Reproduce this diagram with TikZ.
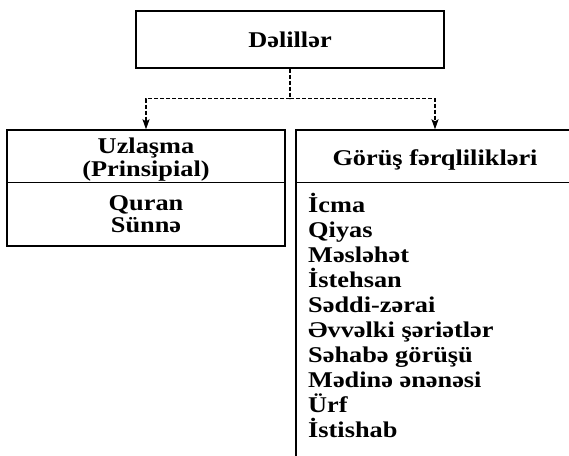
\documentclass[tikz,border=0pt]{standalone}
\usepackage{fontspec}
\newfontfamily\lbl{Liberation Serif}[FakeStretch=1.17]
\usetikzlibrary{arrows.meta,calc}
\tikzset{
  box/.style={draw=black, line width=1.4pt, inner sep=0pt},
  lbltext/.style={inner sep=0pt, font=\lbl\bfseries\fontsize{22.5}{25}\selectfont},
  link/.style={line width=1.2pt, dash pattern=on 4pt off 2pt},
  arr/.style={link, -{Stealth[length=10pt,width=7pt,inset=2pt]}}
}
\begin{document}
\begin{tikzpicture}[x=1pt,y=-1pt]
  \useasboundingbox[fill=white] (0,0) rectangle (569,455);

  % boxes
  \node[box, minimum width=308pt, minimum height=57pt] (top) at (290,39.5) {};
  \node[box, minimum width=278pt, minimum height=116pt] (cons) at (146,188) {};
  \node[box, minimum width=278pt, minimum height=340pt] (diff) at (435,300) {};

  % header dividers (y axis points down here)
  \draw[line width=1.4pt] ($(cons.north west)+(0,53)$) -- ($(cons.north east)+(0,53)$);
  \draw[line width=1.4pt] ($(diff.north west)+(0,53)$) -- ($(diff.north east)+(0,53)$);

  % connectors
  \coordinate (split) at ($(top.south)+(0,30)$);
  \draw[link] (top.south) -- (split);
  \draw[arr] (split) -| (cons.north);
  \draw[arr] (split) -| (diff.north);

  % titles
  \node[lbltext, anchor=base] (ttop) at (290,47) {Dəlillər};
  \node[lbltext, anchor=base] (tc1) at (146,153.5) {Uzlaşma};
  \node[lbltext, anchor=base] (tc2) at (146,176) {(Prinsipial)};
  \node[lbltext, anchor=base] (tc3) at (146,210) {Quran};
  \node[lbltext, anchor=base] (tc4) at (146,232) {Sünnə};
  \node[lbltext, anchor=base] (tdiff) at (435,165) {Görüş fərqlilikləri};

  % list of disputed sources
  \foreach \t [count=\i from 0] in {İcma, Qiyas, Məsləhət, İstehsan, Səddi-zərai,
      Əvvəlki şəriətlər, Səhabə görüşü, Mədinə ənənəsi, Ürf, İstishab}
    \node[lbltext, anchor=base west] (item\i) at (308,212+25.1*\i) {\t};
\end{tikzpicture}
\end{document}
